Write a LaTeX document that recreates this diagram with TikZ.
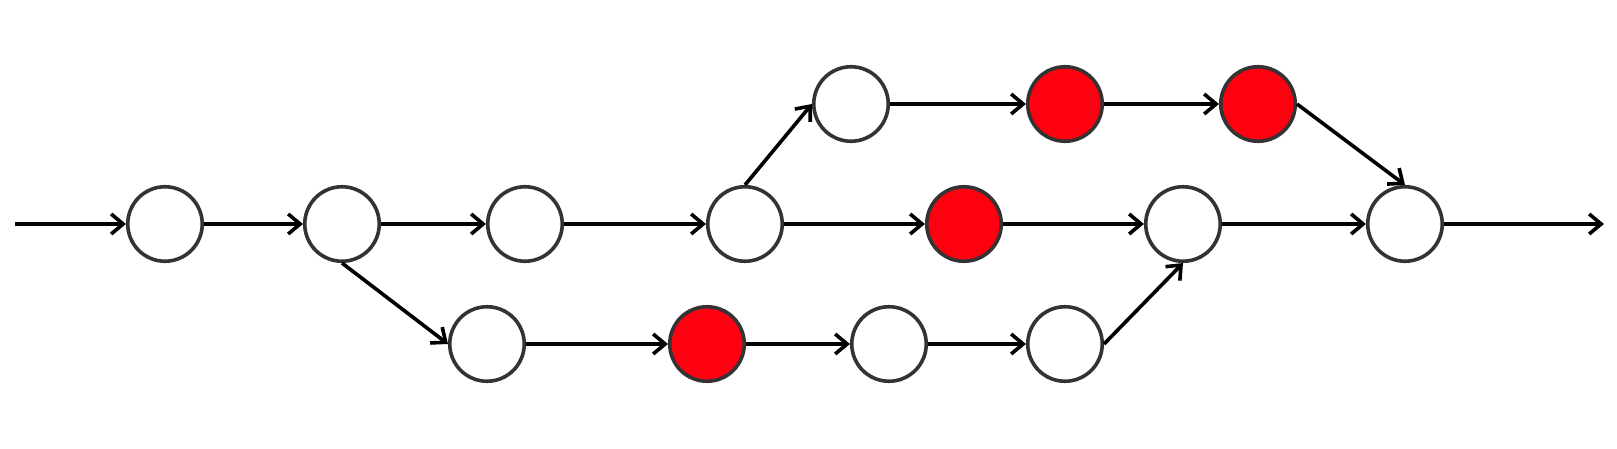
\documentclass[tikz,border=0pt]{standalone}
\usetikzlibrary{arrows.meta}
\definecolor{nodered}{RGB}{255,0,16}
\definecolor{ringgray}{RGB}{51,51,51}
\begin{document}
\begin{tikzpicture}[x=1pt,y=-1pt,
  st/.style={circle,draw=ringgray,line width=3.6pt,minimum size=74.5pt,inner sep=0pt,fill=white},
  rd/.style={st,fill=nodered},
  ar/.style={line width=3.6pt,-{Straight Barb[length=12pt,width=20pt]}}]
\useasboundingbox (0,0) rectangle (1617,449);
\coordinate (in) at (15,224);
\coordinate (out) at (1604,224);
\node[st] (n1) at (165,224) {};
\node[st] (n2) at (342,224) {};
\node[st] (n3) at (525,224) {};
\node[st] (n4) at (745,224) {};
\node[rd] (n5) at (964,224) {};
\node[st] (n6) at (1183,224) {};
\node[st] (n7) at (1405,224) {};
\node[st] (t1) at (851,104) {};
\node[rd] (t2) at (1065,104) {};
\node[rd] (t3) at (1258,104) {};
\node[st] (b1) at (487,344) {};
\node[rd] (b2) at (707,344) {};
\node[st] (b3) at (889,344) {};
\node[st] (b4) at (1065,344) {};
\draw[ar] (in) -- (n1);
\draw[ar] (n1) -- (n2);
\draw[ar] (n2) -- (n3);
\draw[ar] (n3) -- (n4);
\draw[ar] (n4) -- (n5);
\draw[ar] (n5) -- (n6);
\draw[ar] (n6) -- (n7);
\draw[ar] (n7) -- (out);
\draw[ar] (n4.north) -- (t1.west);
\draw[ar] (t1) -- (t2);
\draw[ar] (t2) -- (t3);
\draw[ar] (t3.east) -- (n7.north);
\draw[ar] (n2.south) -- (b1.west);
\draw[ar] (b1) -- (b2);
\draw[ar] (b2) -- (b3);
\draw[ar] (b3) -- (b4);
\draw[ar] (b4.east) -- (n6.south);
\end{tikzpicture}
\end{document}
